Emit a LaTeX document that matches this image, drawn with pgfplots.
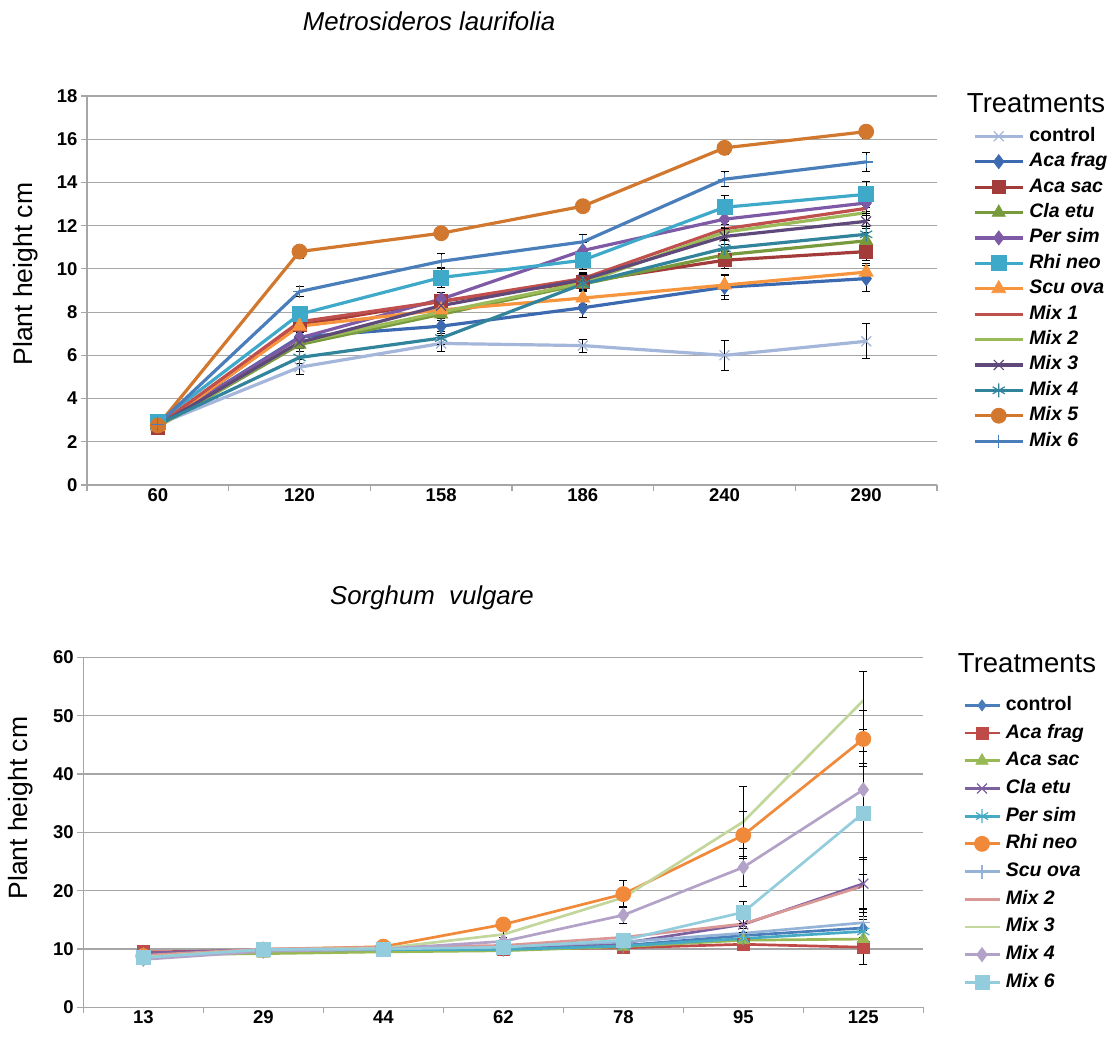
\documentclass[border=0pt]{standalone}
\usepackage{fontspec}
\setmainfont{Liberation Sans}
\usepackage{pgfplots}
\pgfplotsset{compat=1.18}

% top chart colours
\definecolor{tctl}{HTML}{A4B6DA}
\definecolor{tacf}{HTML}{3C6AB0}
\definecolor{tacs}{HTML}{A23B39}
\definecolor{tcla}{HTML}{789A3D}
\definecolor{tper}{HTML}{7E59A6}
\definecolor{trhi}{HTML}{3FA9C9}
\definecolor{tscu}{HTML}{F7953F}
\definecolor{tmA}{HTML}{C0504D}
\definecolor{tmB}{HTML}{9BBB59}
\definecolor{tmC}{HTML}{5F497A}
\definecolor{tmD}{HTML}{31849B}
\definecolor{tmE}{HTML}{D2772E}
\definecolor{tmF}{HTML}{4A7EBB}
% bottom chart colours
\definecolor{bctl}{HTML}{4A7EBB}
\definecolor{bacf}{HTML}{BE4B48}
\definecolor{bacs}{HTML}{98B954}
\definecolor{bcla}{HTML}{7D60A0}
\definecolor{bper}{HTML}{46AAC5}
\definecolor{brhi}{HTML}{F0893A}
\definecolor{bscu}{HTML}{95B3D7}
\definecolor{bmB}{HTML}{D99795}
\definecolor{bmC}{HTML}{C3D69B}
\definecolor{bmD}{HTML}{B3A2C7}
\definecolor{bmF}{HTML}{93CDDD}
\definecolor{gridc}{HTML}{A6A6A6}

\pgfplotsset{
  myaxis/.style={
    scale only axis,
    axis x line*=bottom, axis y line*=left,
    axis line style={draw=gridc, line width=1.2pt},
    ymajorgrids, grid style={gridc, line width=1.2pt},
    tick align=outside, major tick length=6pt,
    tick style={gridc, line width=1.2pt},
    ticklabel style={font=\fontsize{18.5}{18.5}\selectfont\bfseries},
    /pgf/number format/assume math mode=true,
    xticklabel=\empty,
    extra x tick style={major tick length=0pt, tick style={draw=none}},
    clip=false,
    legend cell align=left,
    ylabel={Plant height cm},
    ylabel style={font=\fontsize{26.5}{26.5}\selectfont, anchor=center},
  },
  eb/.style={
    /pgfplots/error bars/y dir=both,
    /pgfplots/error bars/y explicit,
    /pgfplots/error bars/error bar style={black, line width=1pt, solid},
    /pgfplots/error bars/error mark options={rotate=90, black, mark size=4pt, line width=1pt},
  },
}

\begin{document}
\begin{tikzpicture}
\path[use as bounding box] (0,0) rectangle (1115pt,1043pt);

\node[font=\fontsize{25.8}{25.8}\selectfont\itshape] at (429pt,1022pt) {Metrosideros laurifolia};
\node[font=\fontsize{25.8}{25.8}\selectfont\itshape] at (432pt,445pt) {Sorghum\ \ vulgare};
\node[font=\fontsize{27.5}{27.5}\selectfont] at (1036pt,940pt) {Treatments};
\node[font=\fontsize{27.5}{27.5}\selectfont] at (1027pt,380pt) {Treatments};

% ---------------- top chart ----------------
\begin{axis}[myaxis,
  at={(87pt,558pt)}, anchor=south west,
  width=850pt, height=389pt,
  xmin=-0.5, xmax=5.5, ymin=0, ymax=18,
  ytick={0,2,...,18},
  xtick={-0.5,0.5,...,5.5},
  extra x ticks={0,1,2,3,4,5},
  extra x tick labels={60,120,158,186,240,290},
  ylabel style={at={(axis description cs:-0.0718,0.542)}},
  legend style={at={(axis description cs:1.0423,0.920)}, anchor=north west,
    draw=none, fill=none, inner sep=0pt,
    font=\fontsize{19.5}{19.5}\selectfont\bfseries,
    row sep=7.4pt,
    nodes={inner sep=0pt, text height=14pt, text depth=4pt},
    /tikz/every odd column/.append style={column sep=5pt}},
  legend image code/.code={\draw[mark repeat=2,mark phase=2,#1] plot coordinates {(0pt,0pt)(24pt,0pt)(48pt,0pt)};},
]
\addplot[tctl, line width=3.2pt, mark=x, mark size=7pt, mark options={line width=1.3pt}, eb]
  table[x index=0, y index=1, y error index=2] {
0 2.80 0.15
1 5.45 0.35
2 6.55 0.35
3 6.45 0.30
4 6.00 0.70
5 6.65 0.80
};
\addlegendentry{control}
\addplot[tacf, line width=3.2pt, mark=diamond*, mark size=7pt, mark options={line width=0.8pt}, eb]
  table[x index=0, y index=1, y error index=2] {
0 2.75 0.15
1 6.85 0.30
2 7.35 0.35
3 8.20 0.45
4 9.15 0.55
5 9.55 0.60
};
\addlegendentry{\textit{Aca frag}}
\addplot[tacs, line width=3.2pt, mark=square*, mark size=6.5pt, mark options={line width=0.8pt}, eb]
  table[x index=0, y index=1, y error index=2] {
0 2.65 0.15
1 7.40 0.30
2 8.50 0.30
3 9.40 0.35
4 10.40 0.40
5 10.80 0.40
};
\addlegendentry{\textit{Aca sac}}
\addplot[tcla, line width=3.2pt, mark=triangle*, mark size=7.5pt, mark options={line width=0.8pt}, eb]
  table[x index=0, y index=1, y error index=2] {
0 2.70 0.15
1 6.50 0.30
2 7.90 0.30
3 9.30 0.30
4 10.65 0.35
5 11.30 0.40
};
\addlegendentry{\textit{Cla etu}}
\addplot[tper, line width=3.2pt, mark=diamond*, mark size=7pt, mark options={line width=0.8pt}, eb]
  table[x index=0, y index=1, y error index=2] {
0 2.75 0.15
1 6.80 0.30
2 8.60 0.30
3 10.85 0.35
4 12.30 0.40
5 13.05 0.40
};
\addlegendentry{\textit{Per sim}}
\addplot[trhi, line width=3.2pt, mark=square*, mark size=7.5pt, mark options={line width=0.8pt}, eb]
  table[x index=0, y index=1, y error index=2] {
0 2.90 0.15
1 7.90 0.35
2 9.60 0.45
3 10.40 0.45
4 12.85 0.55
5 13.45 0.60
};
\addlegendentry{\textit{Rhi neo}}
\addplot[tscu, line width=3.2pt, mark=triangle*, mark size=8pt, mark options={line width=0.8pt}, eb]
  table[x index=0, y index=1, y error index=2] {
0 2.70 0.15
1 7.35 0.30
2 8.10 0.30
3 8.65 0.30
4 9.25 0.50
5 9.85 0.40
};
\addlegendentry{\textit{Scu ova}}
\addplot[tmA, line width=3.2pt, mark=none, eb]
  table[x index=0, y index=1, y error index=2] {
0 2.75 0.15
1 7.55 0.30
2 8.50 0.30
3 9.55 0.30
4 11.85 0.35
5 12.80 0.35
};
\addlegendentry{\textit{Mix 1}}
\addplot[tmB, line width=3.2pt, mark=none, eb]
  table[x index=0, y index=1, y error index=2] {
0 2.70 0.15
1 6.60 0.30
2 8.00 0.30
3 9.35 0.30
4 11.70 0.35
5 12.60 0.35
};
\addlegendentry{\textit{Mix 2}}
\addplot[tmC, line width=3.2pt, mark=x, mark size=7pt, mark options={line width=1.2pt}, eb]
  table[x index=0, y index=1, y error index=2] {
0 2.75 0.15
1 6.60 0.30
2 8.30 0.30
3 9.50 0.30
4 11.50 0.35
5 12.20 0.35
};
\addlegendentry{\textit{Mix 3}}
\addplot[tmD, line width=3.2pt, mark=asterisk, mark size=7pt, mark options={line width=1.2pt}, eb]
  table[x index=0, y index=1, y error index=2] {
0 2.80 0.15
1 5.90 0.30
2 6.80 0.30
3 9.30 0.30
4 10.95 0.35
5 11.60 0.35
};
\addlegendentry{\textit{Mix 4}}
\addplot[tmE, line width=3.2pt, mark=*, mark size=7.5pt, mark options={line width=0.8pt}, eb]
  table[x index=0, y index=1, y error index=2] {
0 2.75 0.15
1 10.80 0.30
2 11.65 0.20
3 12.90 0.25
4 15.60 0.30
5 16.35 0.30
};
\addlegendentry{\textit{Mix 5}}
\addplot[tmF, line width=3.2pt, mark=+, mark size=6.5pt, mark options={line width=1.2pt}, eb]
  table[x index=0, y index=1, y error index=2] {
0 2.80 0.15
1 8.95 0.25
2 10.35 0.35
3 11.25 0.35
4 14.15 0.35
5 14.95 0.45
};
\addlegendentry{\textit{Mix 6}}
\end{axis}

% ---------------- bottom chart ----------------
\begin{axis}[myaxis,
  at={(83.3pt,35.7pt)}, anchor=south west,
  width=840pt, height=350pt,
  xmin=-0.5, xmax=6.5, ymin=0, ymax=60,
  ytick={0,10,...,60},
  xtick={-0.5,0.5,...,6.5},
  extra x ticks={0,1,2,3,4,5,6},
  extra x tick labels={13,29,44,62,78,95,125},
  ylabel style={at={(axis description cs:-0.0742,0.569)}},
  legend style={at={(axis description cs:1.0472,0.889)}, anchor=north west,
    draw=none, fill=none, inner sep=0pt,
    font=\fontsize{19.5}{19.5}\selectfont\bfseries,
    row sep=9.7pt,
    nodes={inner sep=0pt, text height=14pt, text depth=4pt},
    /tikz/every odd column/.append style={column sep=5pt}},
  legend image code/.code={\draw[mark repeat=2,mark phase=2,#1] plot coordinates {(0pt,0pt)(17.5pt,0pt)(35pt,0pt)};},
]
\addplot[bctl, line width=2.7pt, mark=diamond*, mark size=5.5pt, mark options={line width=0.8pt}, eb]
  table[x index=0, y index=1, y error index=2] {
0 9.2 0.5
1 9.8 0.4
2 10.0 0.4
3 10.0 0.4
4 10.6 0.6
5 12.3 1.2
6 13.6 2.0
};
\addlegendentry{control}
\addplot[bacf, line width=2.7pt, mark=square*, mark size=6pt, mark options={line width=0.8pt}, eb]
  table[x index=0, y index=1, y error index=2] {
0 9.5 0.6
1 9.7 0.4
2 9.9 0.4
3 10.0 0.4
4 10.2 0.5
5 10.8 0.8
6 10.3 3.0
};
\addlegendentry{\textit{Aca frag}}
\addplot[bacs, line width=2.7pt, mark=triangle*, mark size=7pt, mark options={line width=0.8pt}, eb]
  table[x index=0, y index=1, y error index=2] {
0 9.0 0.5
1 9.2 0.5
2 9.5 0.4
3 9.7 0.5
4 10.4 0.6
5 11.5 0.9
6 11.7 1.5
};
\addlegendentry{\textit{Aca sac}}
\addplot[bcla, line width=2.7pt, mark=x, mark size=7pt, mark options={line width=1.2pt}, eb]
  table[x index=0, y index=1, y error index=2] {
0 9.3 0.5
1 9.9 0.4
2 10.2 0.4
3 10.3 0.5
4 11.0 0.7
5 14.2 1.5
6 21.2 4.5
};
\addlegendentry{\textit{Cla etu}}
\addplot[bper, line width=2.7pt, mark=asterisk, mark size=7pt, mark options={line width=1.2pt}, eb]
  table[x index=0, y index=1, y error index=2] {
0 8.7 0.4
1 9.7 0.4
2 9.9 0.4
3 9.9 0.4
4 10.5 0.5
5 11.8 1.0
6 13.0 2.0
};
\addlegendentry{\textit{Per sim}}
\addplot[brhi, line width=2.7pt, mark=*, mark size=7.5pt, mark options={line width=0.8pt}, eb]
  table[x index=0, y index=1, y error index=2] {
0 8.8 0.6
1 9.9 0.5
2 10.4 0.5
3 14.2 0.6
4 19.4 2.3
5 29.5 4.0
6 46.0 4.8
};
\addlegendentry{\textit{Rhi neo}}
\addplot[bscu, line width=2.7pt, mark=+, mark size=7pt, mark options={line width=1.2pt}, eb]
  table[x index=0, y index=1, y error index=2] {
0 8.5 0.5
1 9.8 0.4
2 10.1 0.4
3 10.4 0.5
4 11.2 0.6
5 12.7 1.2
6 14.5 2.5
};
\addlegendentry{\textit{Scu ova}}
\addplot[bmB, line width=2.7pt, mark=none, eb]
  table[x index=0, y index=1, y error index=2] {
0 8.9 0.5
1 10.0 0.4
2 10.3 0.4
3 10.6 0.5
4 12.0 0.7
5 14.3 1.5
6 20.8 4.5
};
\addlegendentry{\textit{Mix 2}}
\addplot[bmC, line width=2.7pt, mark=none, eb]
  table[x index=0, y index=1, y error index=2] {
0 8.6 0.5
1 9.9 0.4
2 10.1 0.4
3 12.5 0.6
4 18.8 1.5
5 31.8 6.0
6 52.6 5.0
};
\addlegendentry{\textit{Mix 3}}
\addplot[bmD, line width=2.7pt, mark=diamond*, mark size=7pt, mark options={line width=0.8pt}, eb]
  table[x index=0, y index=1, y error index=2] {
0 8.2 0.5
1 9.6 0.4
2 10.0 0.4
3 11.3 0.6
4 15.8 1.5
5 24.0 3.3
6 37.3 4.5
};
\addlegendentry{\textit{Mix 4}}
\addplot[bmF, line width=2.7pt, mark=square*, mark size=7pt, mark options={line width=0.8pt}, eb]
  table[x index=0, y index=1, y error index=2] {
0 8.5 0.5
1 9.9 0.5
2 10.0 0.4
3 10.3 0.5
4 11.5 0.8
5 16.3 1.9
6 33.3 10.5
};
\addlegendentry{\textit{Mix 6}}
\end{axis}
\end{tikzpicture}
\end{document}
